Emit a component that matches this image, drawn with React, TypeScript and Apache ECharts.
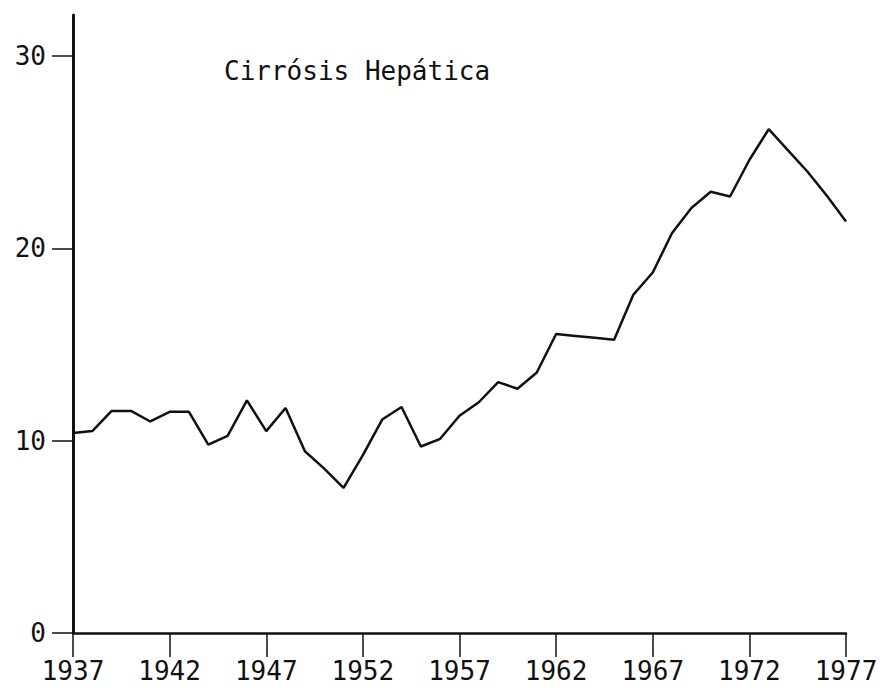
import React, { useEffect, useRef } from "react";
import * as echarts from "echarts";

const years: number[] = [
  1937, 1938, 1939, 1940, 1941, 1942, 1943, 1944, 1945, 1946, 1947, 1948, 1949, 1950,
  1951, 1952, 1953, 1954, 1955, 1956, 1957, 1958, 1959, 1960, 1961, 1962, 1963, 1964,
  1965, 1966, 1967, 1968, 1969, 1970, 1971, 1972, 1973, 1974, 1975, 1976, 1977,
];
const rates: number[] = [
  10.4, 10.5, 11.55, 11.55, 11.0, 11.5, 11.5, 9.8, 10.25, 12.1, 10.5, 11.7, 9.45, 8.55,
  7.55, 9.25, 11.1, 11.75, 9.7, 10.1, 11.3, 12.0, 13.05, 12.7, 13.55, 15.55, 15.45, 15.35,
  15.25, 17.6, 18.75, 20.8, 22.1, 22.95, 22.7, 24.6, 26.2, 25.1, 24.0, 22.75, 21.4,
];
const xTickLabels: number[] = [1937, 1942, 1947, 1952, 1957, 1962, 1967, 1972, 1977];
const yTickLabels: number[] = [0, 10, 20, 30];
const titleText = "Cirrósis Hepática";

const FONT = "DejaVu Sans Mono";

export default function App() {
  const ref = useRef<HTMLDivElement>(null);
  useEffect(() => {
    if (!ref.current) return;
    const chart = echarts.init(ref.current, null, { renderer: "svg" });
    chart.setOption({
      animation: false,
      backgroundColor: "#ffffff",
      title: {
        text: titleText,
        left: 219,
        top: 53,
        textStyle: { fontFamily: FONT, fontSize: 26, fontWeight: "normal", color: "#111" },
      },
      grid: { left: 73, right: 37, top: 15, bottom: 54 },
      xAxis: {
        type: "value",
        min: 1937,
        max: 1977,
        splitLine: { show: false },
        axisLine: { show: true, lineStyle: { color: "#111", width: 2.5 } },
        axisTick: {
          show: true,
          customValues: xTickLabels,
          length: 24,
          lineStyle: { color: "#111", width: 1.5 },
        },
        axisLabel: {
          customValues: xTickLabels,
          margin: 25,
          fontFamily: FONT,
          fontSize: 26,
          color: "#111",
          formatter: (v: number) => String(v),
        },
      },
      yAxis: {
        type: "value",
        min: 0,
        max: 32.14,
        splitLine: { show: false },
        axisLine: { show: true, onZero: false, lineStyle: { color: "#111", width: 3 } },
        axisTick: {
          show: true,
          customValues: yTickLabels,
          length: 21,
          lineStyle: { color: "#111", width: 1.5 },
        },
        axisLabel: {
          customValues: yTickLabels,
          margin: 27,
          fontFamily: FONT,
          fontSize: 26,
          color: "#111",
        },
      },
      series: [
        {
          type: "line",
          data: years.map((y, i) => [y, rates[i]]),
          showSymbol: false,
          symbol: "none",
          lineStyle: { color: "#111", width: 2.5 },
        },
      ],
    });
    return () => chart.dispose();
  }, []);
  return (
    <div
      ref={ref}
      style={{ position: "fixed", left: 0, top: 0, width: 883, height: 687, background: "#fff" }}
    />
  );
}
